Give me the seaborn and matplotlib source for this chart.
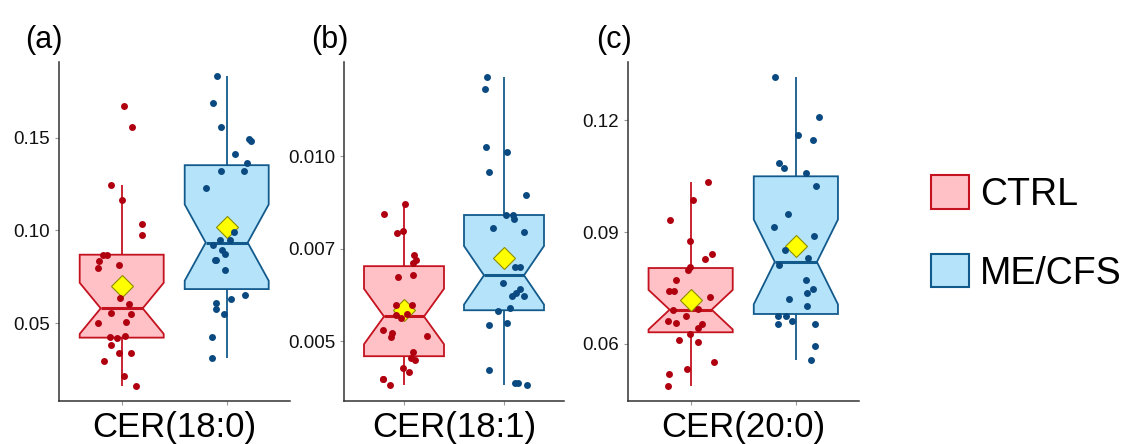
import matplotlib
matplotlib.use('Agg')
import matplotlib.pyplot as plt
from matplotlib.patches import Patch
import numpy as np
import pandas as pd
import seaborn as sns

sns.set_style('white')
plt.rcParams['font.family'] = ['Liberation Sans', 'DejaVu Sans']
plt.rcParams['text.color'] = 'black'
plt.rcParams['axes.labelcolor'] = 'black'

groups = ['CTRL', 'ME/CFS']
lipids = ['CER(18:0)', 'CER(18:1)', 'CER(20:0)']
panel_tags = ['(a)', '(b)', '(c)']

# values (26 subjects per group)
cer180_ctrl = [0.1674, 0.1557, 0.1245, 0.1162, 0.1034, 0.0973, 0.0870, 0.0867, 0.0834,
               0.0813, 0.0795, 0.0636, 0.0602, 0.0557, 0.0550, 0.0506, 0.0501, 0.0429,
               0.0425, 0.0420, 0.0382, 0.0337, 0.0337, 0.0296, 0.0214, 0.0160]
cer180_me = [0.1832, 0.1688, 0.1557, 0.1495, 0.1481, 0.1414, 0.1364, 0.1319, 0.1319,
             0.1231, 0.0991, 0.0946, 0.0946, 0.0923, 0.0896, 0.0874, 0.0841, 0.0841,
             0.0787, 0.0649, 0.0632, 0.0611, 0.0575, 0.0550, 0.0425, 0.0310]
cer181_ctrl = [0.008716, 0.008437, 0.007986, 0.007914, 0.007320, 0.007203, 0.007113,
               0.006779, 0.006734, 0.005986, 0.005968, 0.005734, 0.005716, 0.005626,
               0.005311, 0.005221, 0.005131, 0.005104, 0.004707, 0.004563, 0.004491,
               0.004284, 0.004167, 0.003987, 0.003978, 0.003833]
cer181_me = [0.012140, 0.011815, 0.010248, 0.010122, 0.009572, 0.008941, 0.008410,
             0.008410, 0.008293, 0.008068, 0.007941, 0.007014, 0.006995, 0.006572,
             0.006419, 0.006302, 0.006230, 0.006212, 0.005887, 0.005824, 0.005491,
             0.005437, 0.004239, 0.003878, 0.003878, 0.003815]
cer200_ctrl = [0.10354, 0.09852, 0.09314, 0.08767, 0.08408, 0.08265, 0.08049, 0.07987,
               0.07717, 0.07413, 0.07413, 0.07242, 0.06928, 0.06900, 0.06731, 0.06605,
               0.06543, 0.06534, 0.06435, 0.06264, 0.06103, 0.06040, 0.05520, 0.05332,
               0.05188, 0.04865]
cer200_me = [0.13171, 0.12094, 0.11610, 0.11467, 0.10857, 0.10731, 0.10588, 0.10229,
             0.09484, 0.09144, 0.08883, 0.08507, 0.08291, 0.08103, 0.07699, 0.07466,
             0.07350, 0.07197, 0.07000, 0.06731, 0.06731, 0.06605, 0.06533, 0.06533,
             0.05942, 0.05556]

panel_data = [(cer180_ctrl, cer180_me), (cer181_ctrl, cer181_me), (cer200_ctrl, cer200_me)]
y_ticks = [[0.05, 0.10, 0.15], [0.005, 0.0075, 0.010], [0.06, 0.09, 0.12]]
y_ticklabels = [['0.05', '0.10', '0.15'], ['0.005', '0.007', '0.010'], ['0.06', '0.09', '0.12']]
y_limits = [(0.0079, 0.191), (0.00339, 0.01254), (0.0446, 0.1357)]

fill_cols = {'CTRL': '#FFC0C6', 'ME/CFS': '#B5E4FA'}
edge_cols = {'CTRL': '#C4121F', 'ME/CFS': '#135A8C'}
dot_cols = {'CTRL': '#B00010', 'ME/CFS': '#0A4A80'}

W, H = 1125, 444
fig = plt.figure(figsize=(W / 100, H / 100), dpi=100)
axes_px = [(58.7, 231), (344, 220), (627.5, 231.5)]
tag_x = [25, 311, 596]

np.random.seed(3)
for i, (ctrl, me) in enumerate(panel_data):
    left, width = axes_px[i]
    ax = fig.add_axes([left / W, 1 - 401 / H, width / W, 339 / H])
    df = pd.DataFrame({'group': ['CTRL'] * len(ctrl) + ['ME/CFS'] * len(me),
                       'value': ctrl + me})
    for g in groups:
        sub = df[df['group'] == g]
        sns.boxplot(data=sub, x='group', y='value', order=groups, ax=ax,
                    color=fill_cols[g], linecolor=edge_cols[g], saturation=1,
                    notch=True, width=0.8, linewidth=1.3, showfliers=False,
                    showcaps=False, showmeans=True,
                    medianprops=dict(linewidth=2.2),
                    meanprops=dict(marker='D', markerfacecolor='#FFFF00',
                                   markeredgecolor='#8C8C00', markersize=11,
                                   markeredgewidth=0.8))
        sns.stripplot(data=sub, x='group', y='value', order=groups, ax=ax,
                      color=dot_cols[g], jitter=0.24, size=5, zorder=3)

    ax.set_xlim(-0.6, 1.6)
    ax.set_ylim(*y_limits[i])
    ax.set_yticks(y_ticks[i])
    ax.set_yticklabels(y_ticklabels[i])
    ax.set_xticks([0, 1])
    ax.set_xticklabels(['', ''])
    ax.tick_params(axis='both', length=3, width=0.8, color='#999999',
                   labelsize=13.5, labelcolor='#111111', pad=3, left=True, bottom=True)
    ax.set_ylabel('')
    ax.set_xlabel(lipids[i], fontsize=25, labelpad=1, color='black')
    for s in ['top', 'right']:
        ax.spines[s].set_visible(False)
    for s in ['left', 'bottom']:
        ax.spines[s].set_color('#333333')
        ax.spines[s].set_linewidth(1.1)
    ax.grid(False)
    fig.text(tag_x[i] / W, 1 - 25 / H, panel_tags[i], fontsize=22, va='top', ha='left')

handles = [Patch(facecolor=fill_cols[g], edgecolor=edge_cols[g], linewidth=1.5, label=g)
           for g in groups]
fig.legend(handles=handles, loc='upper left', bbox_to_anchor=(931 / W, 1 - 175 / H),
           frameon=False, fontsize=27, handlelength=1.0, handleheight=1.0,
           handletextpad=0.3, labelspacing=1.1, borderpad=0, borderaxespad=0)

fig.savefig('out.png', dpi=100)
